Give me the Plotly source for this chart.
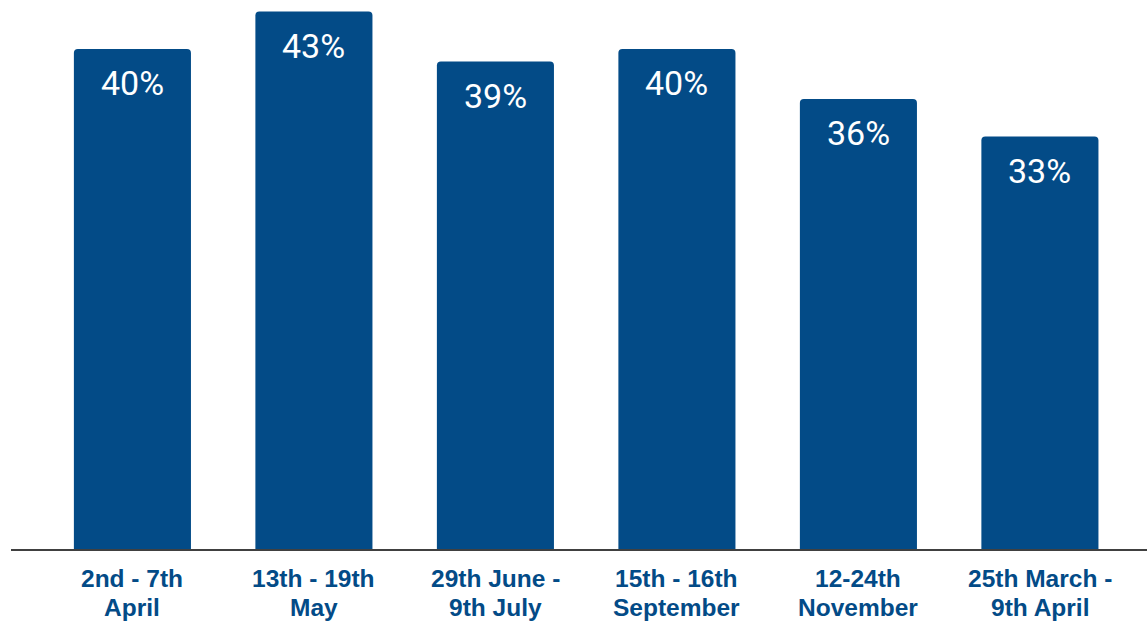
import plotly.graph_objects as go

categories = [
    "2nd - 7th<br>April",
    "13th - 19th<br>May",
    "29th June -<br>9th July",
    "15th - 16th<br>September",
    "12-24th<br>November",
    "25th March -<br>9th April",
]
values = [40, 43, 39, 40, 36, 33]
value_labels = [f"{v}%" for v in values]

BLUE = "#034b87"
LABEL_FONT = dict(family="Liberation Sans", size=24.5, color=BLUE, weight="bold")

fig = go.Figure(
    go.Bar(
        x=list(range(len(categories))),
        y=values,
        width=0.645,
        marker=dict(color=BLUE, cornerradius=4, line=dict(width=0)),
        hoverinfo="skip",
    )
)

# value labels placed just inside the top of each bar
for i, (v, t) in enumerate(zip(values, value_labels)):
    fig.add_annotation(
        x=i, y=v, text=t, showarrow=False,
        yanchor="top", yshift=-12,
        font=dict(family="Roboto", size=34, color="white"),
    )

# category labels under the axis, one annotation per line for a tighter leading
for i, cat in enumerate(categories):
    for k, line in enumerate(cat.split("<br>")):
        fig.add_annotation(
            x=i, y=0, text=line, showarrow=False,
            yanchor="middle", yshift=-29 - 29 * k,
            borderpad=0,
            font=LABEL_FONT,
        )

fig.update_layout(
    width=1147, height=621,
    margin=dict(l=11, r=0, t=0, b=72),
    paper_bgcolor="white", plot_bgcolor="white",
    showlegend=False,
    xaxis=dict(
        range=[-0.669, 5.59],
        tickmode="array",
        tickvals=list(range(len(categories))),
        showticklabels=False,
        showgrid=False, zeroline=False,
        showline=True, linecolor="#404040", linewidth=2,
        ticks="",
        automargin=False,
    ),
    yaxis=dict(
        range=[0, 43.92],
        visible=False,
        showgrid=False, zeroline=False,
    ),
)

fig.write_html("out.html")
